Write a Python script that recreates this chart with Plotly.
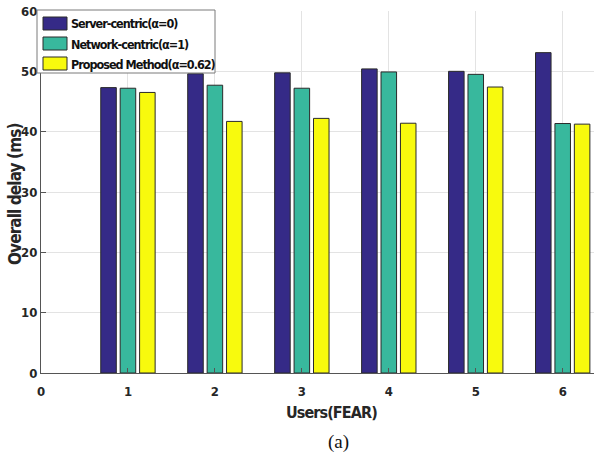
import plotly.graph_objects as go

# Overall delay (ms) per user count for the three placement strategies
users = [1, 2, 3, 4, 5, 6]
server_centric = [47.3, 49.6, 49.75, 50.4, 50.0, 53.1]
network_centric = [47.2, 47.7, 47.2, 49.9, 49.5, 41.35]
proposed = [46.5, 41.7, 42.2, 41.4, 47.4, 41.25]

series_names = [
    "Server-centric(α=0)",
    "Network-centric(α=1)",
    "Proposed Method(α=0.62)",
]
series_colors = ["#352a87", "#38b89d", "#f8fa0d"]

W, H = 594, 461
L, R, T, B = 41, 0, 11, 88
plot_w = W - L - R
plot_h = H - T - B

font_bold = "DejaVu Sans Condensed, Liberation Sans, Arial"


def tight(text, spacing):
    return '<span style="letter-spacing:%spx">%s</span>' % (spacing, text)


def px_x(px):
    """Pixel column -> paper x."""
    return (px - L) / plot_w


def px_y(py):
    """Pixel row (from top) -> paper y."""
    return (H - B - py) / plot_h


fig = go.Figure()
for name, vals, col in zip(series_names, [server_centric, network_centric, proposed], series_colors):
    fig.add_trace(go.Bar(
        x=users, y=vals, name=name, showlegend=False,
        marker=dict(color=col, line=dict(color="#2a2a2a", width=1)),
    ))

tick_font = dict(family=font_bold, size=13, color="#262626", weight="bold")

fig.update_layout(
    width=W, height=H,
    margin=dict(l=L, r=R, t=T, b=B, pad=0),
    paper_bgcolor="white", plot_bgcolor="white",
    barmode="group", bargap=0.33, bargroupgap=0.2,
    font=dict(family=font_bold, size=13, color="#262626"),
    showlegend=False,
    xaxis=dict(
        range=[0, 6.36], tickvals=[0, 1, 2, 3, 4, 5, 6],
        showline=True, linecolor="#555555", linewidth=1,
        ticks="inside", ticklen=5, tickcolor="#555555",
        showgrid=True, gridcolor="#e3e3e3", zeroline=False,
        tickfont=tick_font, ticklabelstandoff=6,
    ),
    yaxis=dict(
        range=[0, 60], tickvals=[0, 10, 20, 30, 40, 50, 60],
        showline=True, linecolor="#555555", linewidth=1,
        ticks="inside", ticklen=5, tickcolor="#555555",
        showgrid=True, gridcolor="#e3e3e3", zeroline=False,
        tickfont=tick_font,
    ),
)

# Legend box in the upper-left corner of the axes
fig.add_shape(
    type="rect", xref="paper", yref="paper", layer="above",
    x0=px_x(37), x1=px_x(215), y0=px_y(73), y1=px_y(10),
    fillcolor="white", line=dict(color="#7a7a7a", width=1),
)
for i, (name, col) in enumerate(zip(series_names, series_colors)):
    top = 17 + 20 * i
    fig.add_shape(
        type="rect", xref="paper", yref="paper", layer="above",
        x0=px_x(43), x1=px_x(67), y0=px_y(top + 13), y1=px_y(top),
        fillcolor=col, line=dict(color="#2a2a2a", width=1),
    )
    fig.add_annotation(
        text=tight(name, -1.0), xref="paper", yref="paper",
        x=px_x(69), y=px_y(top + 7), xanchor="left", yanchor="middle",
        showarrow=False,
        font=dict(family=font_bold, size=12.5, color="#111", weight="bold"),
    )

fig.add_annotation(
    text=tight("Overall delay (ms)", -0.9), xref="paper", yref="paper",
    x=px_x(15), y=px_y(195), xanchor="center", yanchor="middle",
    showarrow=False, textangle=-90,
    font=dict(family=font_bold, size=17, color="#262626", weight="bold"),
)
fig.add_annotation(
    text=tight("Users(FEAR)", -0.9), xref="paper", yref="paper",
    x=px_x(331), y=px_y(412), xanchor="center", yanchor="middle",
    showarrow=False,
    font=dict(family=font_bold, size=16, color="#262626", weight="bold"),
)
fig.add_annotation(
    text="(a)", xref="paper", yref="paper",
    x=px_x(338), y=px_y(442), xanchor="center", yanchor="middle",
    showarrow=False,
    font=dict(family="Liberation Serif, Times New Roman, serif", size=19, color="#111"),
)

fig.write_html("out.html")
